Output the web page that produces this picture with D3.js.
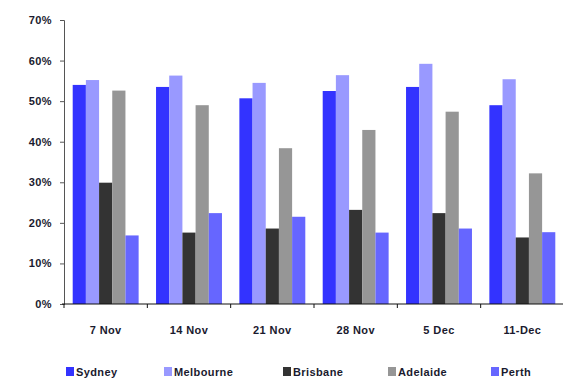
<!DOCTYPE html>
<html>
<head>
<meta charset="utf-8">
<script src="https://cdn.jsdelivr.net/npm/d3@7"></script>
<style>
  html, body { margin: 0; padding: 0; background: #fff; }
  svg { display: block; }
  text { font-family: "Liberation Sans", Arial, sans-serif; font-weight: bold; fill: #1a1a2e; }
</style>
</head>
<body>
<svg id="chart" width="563" height="380"></svg>
<script>
// Weekly share (%) by city
const categories = ["7 Nov", "14 Nov", "21 Nov", "28 Nov", "5 Dec", "11-Dec"];
const seriesNames = ["Sydney", "Melbourne", "Brisbane", "Adelaide", "Perth"];
const sydney    = [54.0, 53.5, 50.7, 52.5, 53.5, 49.0];
const melbourne = [55.2, 56.3, 54.5, 56.4, 59.2, 55.4];
const brisbane  = [29.9, 17.6, 18.6, 23.2, 22.4, 16.4];
const adelaide  = [52.6, 49.0, 38.4, 42.9, 47.4, 32.2];
const perth     = [16.9, 22.4, 21.5, 17.6, 18.6, 17.7];
const yTicks = [0, 10, 20, 30, 40, 50, 60, 70];

const seriesValues = [sydney, melbourne, brisbane, adelaide, perth];
const colors = ["#3333ff", "#9999ff", "#333333", "#969696", "#6666ff"];

const svg = d3.select("#chart");
const plot = { left: 64, right: 564, top: 20, bottom: 304 };

const x0 = d3.scaleBand().domain(categories).range([plot.left, plot.right]).padding(0);
const x1 = d3.scaleBand().domain(seriesNames).range([0, x0.bandwidth()])
  .paddingInner(0).paddingOuter(0.66);
const y = d3.scaleLinear().domain([0, 70]).range([plot.bottom, plot.top]);
const color = d3.scaleOrdinal().domain(seriesNames).range(colors);

// Bars
const groups = svg.append("g").selectAll("g")
  .data(categories)
  .join("g")
  .attr("transform", d => `translate(${x0(d)},0)`);

groups.selectAll("rect")
  .data((c, i) => seriesNames.map((s, k) => ({ s, v: seriesValues[k][i] })))
  .join("rect")
  .attr("x", d => x1(d.s))
  .attr("width", x1.bandwidth())
  .attr("y", d => y(d.v))
  .attr("height", d => y(0) - y(d.v))
  .attr("fill", d => color(d.s));

// Y axis
const yAxis = d3.axisLeft(y).tickValues(yTicks).tickFormat(d => d + "%")
  .tickSizeInner(4).tickSizeOuter(4).tickPadding(8);
const gy = svg.append("g").attr("transform", `translate(${plot.left},0)`).call(yAxis);
gy.select(".domain").attr("stroke", "#555");
gy.selectAll(".tick line").attr("stroke", "#555");
gy.selectAll(".tick text").attr("font-size", 11).attr("letter-spacing", "0.4px")
  .attr("fill", "#1a1a2e");

// X axis: tick marks at category boundaries, labels centred in each band
const gx = svg.append("g").attr("transform", `translate(0,${plot.bottom})`);
gx.append("line").attr("x1", plot.left - 2).attr("x2", plot.right).attr("stroke", "#111").attr("stroke-width", 1.2);
const bounds = categories.map(c => x0(c)).concat([x0(categories[categories.length - 1]) + x0.bandwidth()]);
gx.selectAll("line.tk").data(bounds).join("line").attr("class", "tk")
  .attr("x1", d => d).attr("x2", d => d).attr("y1", 0).attr("y2", 4).attr("stroke", "#111");
gx.selectAll("text").data(categories).join("text")
  .attr("x", d => x0(d) + x0.bandwidth() / 2)
  .attr("y", 30)
  .attr("text-anchor", "middle")
  .attr("font-size", 11)
  .attr("letter-spacing", "0.4px")
  .text(d => d);

// Legend
const legendX = [66, 164, 283, 388, 491];
const legend = svg.append("g").selectAll("g").data(seriesNames).join("g")
  .attr("transform", (d, i) => `translate(${legendX[i]},367)`);
legend.append("rect").attr("width", 8).attr("height", 9).attr("fill", d => color(d));
legend.append("text").attr("x", 10).attr("y", 8.5).attr("font-size", 11)
  .attr("letter-spacing", "0.4px").text(d => d);
</script>
</body>
</html>
